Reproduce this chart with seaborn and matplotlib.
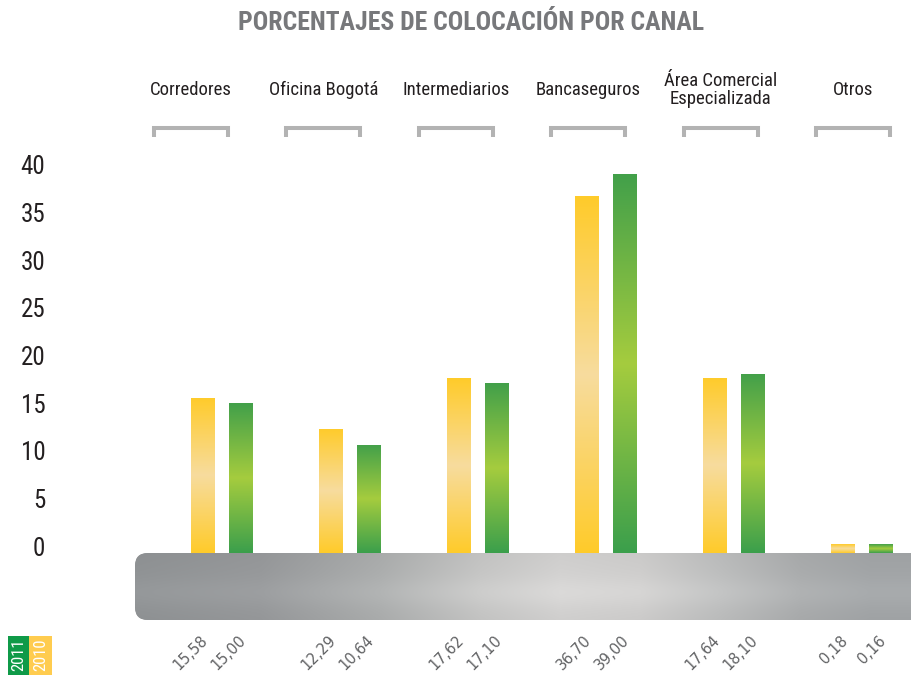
import numpy as np
import pandas as pd
import seaborn as sns
import matplotlib
matplotlib.use("Agg")
import matplotlib.pyplot as plt
from matplotlib import font_manager
from matplotlib.patches import FancyBboxPatch, Rectangle
from matplotlib.colors import LinearSegmentedColormap, to_rgb

# ---------------- data ----------------
categories = ["Corredores", "Oficina Bogotá", "Intermediarios", "Bancaseguros",
              "Área Comercial\nEspecializada", "Otros"]
values_2010 = [15.58, 12.29, 17.62, 36.70, 17.64, 0.18]
values_2011 = [15.00, 10.64, 17.10, 39.00, 18.10, 0.16]
years = ["2010", "2011"]
yticks = [0, 5, 10, 15, 20, 25, 30, 35, 40]
title = "PORCENTAJES DE COLOCACIÓN POR CANAL"

df = pd.DataFrame({
    "canal": categories * 2,
    "year": [years[0]] * len(categories) + [years[1]] * len(categories),
    "value": values_2010 + values_2011,
})

# ---------------- style ----------------
sns.set_theme(style="white")
fl = font_manager.fontManager.ttflist
names = {f.name for f in fl}
NARROW = None
STRETCH = "normal"
for cand in ["Roboto Condensed", "Open Sans Condensed", "Liberation Sans Narrow",
             "Noto Sans Condensed", "Arial Narrow"]:
    if cand in names:
        NARROW = cand
        break
if NARROW is None:
    cond = [f for f in fl if ("Condensed" in f.name or "Narrow" in f.name)]
    if cond:
        NARROW = cond[0].name
if NARROW is None:
    cond = [f for f in fl if str(f.stretch) in ("condensed", "semi-condensed", "extra-condensed")
            or (isinstance(f.stretch, int) and f.stretch < 500)]
    if cond:
        NARROW = cond[0].name
        STRETCH = "condensed"
if NARROW is None:
    NARROW = "DejaVu Sans"
    STRETCH = "condensed"
plt.rcParams["font.family"] = [NARROW, "DejaVu Sans"]
plt.rcParams["font.stretch"] = STRETCH

YEL = "#FFCB2A"
GRN = "#3FA14A"
W, H = 912, 675

fig = plt.figure(figsize=(W / 100, H / 100), dpi=100)
ax = fig.add_axes([55 / W, 0, 1 - 55 / W, 1])

sns.barplot(data=df, x="canal", y="value", hue="year", hue_order=years,
            palette={"2010": YEL, "2011": GRN}, width=0.594, gap=0.369,
            saturation=1, legend=False, ax=ax)

ppu_y = 9.53
zero_px = 546
ppu_x = 128
ax.set_xlim((55 - 222) / ppu_x, (W - 222) / ppu_x)
ax.set_ylim((zero_px - H) / ppu_y, zero_px / ppu_y)

for s in ax.spines.values():
    s.set_visible(False)
ax.set_xticks([])
ax.set_xlabel("")
ax.set_ylabel("")
ax.set_yticks(yticks)
ax.set_yticklabels([str(t) for t in yticks])
ax.tick_params(axis="y", length=0, pad=7, labelsize=18, labelcolor="#231F20")
ax.grid(False)

grad = {
    YEL: ["#FFCB2A", "#F7DC9E", "#FFCB2A"],
    GRN: ["#42A04A", "#A5CC3E", "#3B9F4C"],
}
EXT = 7 / ppu_y
bars = [p for p in ax.patches]
for p in bars:
    fc = matplotlib.colors.to_hex(p.get_facecolor())
    key = YEL if fc.upper() == YEL.upper() else GRN
    x0, y0, w, h = p.get_x(), p.get_y(), p.get_width(), p.get_height()
    p.set_y(y0 - EXT)
    p.set_height(h + EXT)
    cmap = LinearSegmentedColormap.from_list("g", grad[key])
    img = cmap(np.linspace(0, 1, 256))[:, None, :]
    im = ax.imshow(img, extent=(x0, x0 + w, y0 - EXT, y0 + h), aspect="auto",
                   origin="upper", interpolation="bilinear", zorder=p.get_zorder() + 0.1)
    im.set_clip_path(p)

ax.set_xlim((55 - 222) / ppu_x, (W - 222) / ppu_x)
ax.set_ylim((zero_px - H) / ppu_y, zero_px / ppu_y)

for p, v in zip(bars, values_2010 + values_2011):
    cx = p.get_x() + p.get_width() / 2
    ax.annotate(f"{v:.2f}".replace(".", ","), xy=(cx, 0), xycoords="data",
                xytext=(2, -92), textcoords="offset pixels",
                rotation=45, rotation_mode="anchor", ha="right", va="center",
                fontsize=10.5, color="#616264", family="DejaVu Sans", stretch="normal")

# ---------------- decoration overlay (pixel coords) ----------------
ax2 = fig.add_axes([0, 0, 1, 1])
ax2.set_xlim(0, W)
ax2.set_ylim(H, 0)
ax2.axis("off")
ax2.patch.set_alpha(0)

band = FancyBboxPatch((135, 553), 820, 67, boxstyle="round,pad=0,rounding_size=13",
                      linewidth=0, facecolor="#A0A3A5")
ax2.add_patch(band)
xs = np.arange(135, 956)
stops_x = [135, 260, 380, 480, 560, 640, 720, 800, 870, 956]
stops_c = ["#909395", "#97999B", "#ACAEAE", "#C6C6C5", "#D3D2D1", "#CFCECD",
           "#BDBEBE", "#AAACAD", "#A2A5A7", "#A2A5A7"]
rgb = np.array([to_rgb(c) for c in stops_c])
row = np.stack([np.interp(xs, stops_x, rgb[:, k]) for k in range(3)], axis=-1)
ys = np.arange(553, 621)
vert = 1 + 0.035 * np.exp(-((ys - 592) / 14.0) ** 2) - 0.02 * ((ys - 588) / 34.0) ** 2
bimg = np.clip(row[None, :, :] * vert[:, None, None], 0, 1)
bim = ax2.imshow(bimg, extent=(135, 956, 621, 553), aspect="auto",
                 interpolation="bilinear", zorder=2)
bim.set_clip_path(band)
ax2.set_xlim(0, W)
ax2.set_ylim(H, 0)

ax2.text(471, 23, title, ha="center", va="center", fontsize=18.5,
         fontweight="bold", color="#77787B")

for i, cat in enumerate(categories):
    cx = 191 + 132.4 * i
    ax2.text(cx, 90, cat, ha="center", va="center", fontsize=13.5,
             color="#231F20", linespacing=0.95)
    ax2.plot([cx - 37, cx - 37, cx + 37, cx + 37], [137, 127.5, 127.5, 137],
             color="#B3B3B3", lw=2.9, solid_joinstyle="miter", solid_capstyle="butt")

ax2.add_patch(Rectangle((8, 636), 21, 39, facecolor="#0F9A48", linewidth=0))
ax2.add_patch(Rectangle((29, 636), 23, 39, facecolor="#FFCC4F", linewidth=0))
ax2.text(18.5, 655, "2011", rotation=90, ha="center", va="center",
         color="white", fontsize=12)
ax2.text(40.5, 655, "2010", rotation=90, ha="center", va="center",
         color="white", fontsize=12)

fig.savefig("out.png", dpi=100, facecolor="white")
